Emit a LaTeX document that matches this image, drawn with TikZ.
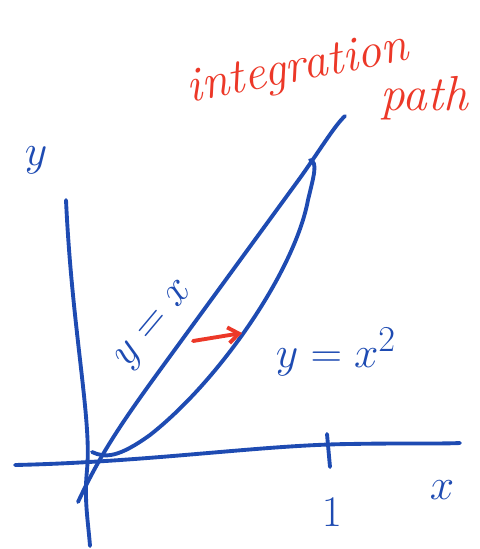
\documentclass[tikz,border=0pt]{standalone}
\usepackage{tikz}
\usetikzlibrary{arrows.meta}
\definecolor{penblue}{RGB}{30,75,178}
\definecolor{penred}{RGB}{236,56,40}
\begin{document}
\begin{tikzpicture}[x=0.02cm,y=-0.02cm,>={Straight Barb[length=6pt,width=9pt]},
  pen/.style={draw=penblue,line width=2.2pt,line cap=round,line join=round},
  redpen/.style={draw=penred,line width=2.2pt,line cap=round,line join=round},
  bluetext/.style={text=penblue,inner sep=0pt,font=\fontsize{30}{32}\selectfont},
  redtext/.style={text=penred,inner sep=0pt,font=\fontsize{28}{30}\selectfont\itshape}]
\useasboundingbox (0,0) rectangle (480,549);
% axes
\coordinate (ytop) at (66,200);
\coordinate (ybot) at (90,546);
\coordinate (xleft) at (15,465);
\coordinate (xright) at (460,443);
\draw[pen] (ytop) .. controls (72,330) and (92,420) .. (87,470) .. controls (84,500) and (88,520) .. (ybot);
\draw[pen] (xleft) .. controls (150,462) and (260,445) .. (350,444) .. controls (400,443) and (440,444) .. (xright);
% tick at 1
\coordinate (tick top) at (327,434);
\coordinate (tick bot) at (330,467);
\draw[pen] (tick top) -- (tick bot);
% the two curves
\coordinate (o1) at (78,502);
\coordinate (top1) at (345,116);
\draw[pen] (o1) .. controls (100,455) and (120,425) .. (160,370) -- (300,178) .. controls (320,150) and (335,125) .. (top1);
\coordinate (o2) at (92,452);
\coordinate (top2) at (310,160);
\draw[pen] (o2) .. controls (105,458) and (118,458) .. (150,435) .. controls (220,380) and (295,270) .. (308,200) .. controls (314,175) and (318,162) .. (top2);
% labels
\node[bluetext] (ylab) at (36,160) {$y$};
\node[bluetext] (xlab) at (442,490) {$x$};
\node[bluetext] (one) at (332,512) {$1$};
\node[bluetext,rotate=50] (line lab) at (156,326) {$y=x$};
\node[bluetext] (parab lab) at (336,352) {$y=x^2$};
% integration path
\node[redtext,rotate=11] (int lab) at (298,70) {integration};
\node[redtext] (path lab) at (424,98) {path};
\coordinate (arr start) at (193,341);
\coordinate (arr end) at (242,333);
\draw[redpen,->] (arr start) -- (arr end);
\end{tikzpicture}
\end{document}
